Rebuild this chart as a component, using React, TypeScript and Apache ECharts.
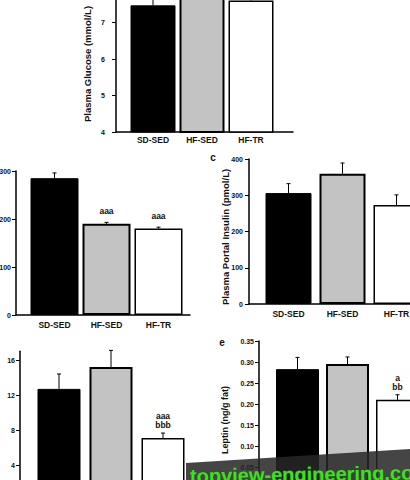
import React, { useEffect, useRef } from "react";
import * as echarts from "echarts";

// ---- data ----
const groups = ["SD-SED", "HF-SED", "HF-TR"];

const glucose = [7.47, 7.85, 7.6];
const glucoseErr = [0.3, 0.3, 0.3];
const glucoseTicks = [4, 5, 6, 7];

const panelB = [285, 190, 180];
const panelBErr = [11, 3, 3];
const panelBSig = ["", "aaa", "aaa"];
const panelBTicks = [0, 100, 200, 300];

const insulin = [306, 359, 273];
const insulinErr = [26, 30, 28];
const insulinTicks = [0, 100, 200, 300, 400];

const panelD = [12.7, 15.2, 7.1];
const panelDErr = [1.7, 1.9, 0.55];
const panelDSig = ["", "", "aaa\nbbb"];
const panelDTicks = [4, 8, 12, 16];

const leptin = [0.283, 0.295, 0.21];
const leptinErr = [0.028, 0.017, 0.012];
const leptinSig = ["", "", "a\nbb"];
const leptinTicks = [0.05, 0.1, 0.15, 0.2, 0.25, 0.3, 0.35];

// ---- layout ----
type Panel = {
  values: number[];
  errs: number[];
  sig?: string[];
  ticks: number[];
  min: number;
  max: number;
  decimals: number;
  axisX: number;
  top: number;
  height: number;
  firstCenter: number;
  step: number;
  rightX: number;
  barWidth: number;
  labelMargin: number;
  yLabelMargin: number;
  showX: boolean;
};

const panels: Panel[] = [
  { values: glucose, errs: glucoseErr, ticks: glucoseTicks, min: 4, max: 8, decimals: 0,
    axisX: 116, top: -14, height: 146, firstCenter: 153, step: 49, rightX: 293, barWidth: 45,
    labelMargin: 3, yLabelMargin: 11, showX: true },
  { values: panelB, errs: panelBErr, sig: panelBSig, ticks: panelBTicks, min: 0, max: 300, decimals: 0,
    axisX: 16, top: 171, height: 144, firstCenter: 54.5, step: 52, rightX: 190, barWidth: 48,
    labelMargin: 5, yLabelMargin: 5, showX: true },
  { values: insulin, errs: insulinErr, ticks: insulinTicks, min: 0, max: 400, decimals: 0,
    axisX: 249, top: 159, height: 145, firstCenter: 288.5, step: 54, rightX: 419, barWidth: 46,
    labelMargin: 5, yLabelMargin: 6, showX: true },
  { values: panelD, errs: panelDErr, sig: panelDSig, ticks: panelDTicks, min: 0, max: 17, decimals: 0,
    axisX: 20, top: 351.25, height: 148.75, firstCenter: 59, step: 52, rightX: 195, barWidth: 43,
    labelMargin: 5, yLabelMargin: 5, showX: false },
  { values: leptin, errs: leptinErr, sig: leptinSig, ticks: leptinTicks, min: 0, max: 0.35, decimals: 2,
    axisX: 259, top: 341, height: 147, firstCenter: 297.5, step: 50, rightX: 419, barWidth: 43,
    labelMargin: 5, yLabelMargin: 5, showX: false },
];

const FONT = '"Liberation Sans", Arial, sans-serif';

const barStyles = [
  { color: "#000000", borderColor: "#000000", borderWidth: 1 },
  { color: "#c3c3c3", borderColor: "#000000", borderWidth: 2 },
  { color: "#ffffff", borderColor: "#000000", borderWidth: 1.5 },
];

function buildOption() {
  const grid: any[] = [];
  const xAxis: any[] = [];
  const yAxis: any[] = [];
  const series: any[] = [];

  panels.forEach((p, i) => {
    grid.push({
      left: p.axisX,
      top: p.top,
      width: p.rightX - p.axisX,
      height: p.height,
      containLabel: false,
      outerBoundsMode: "none",
    });
    xAxis.push({
      type: "value",
      gridIndex: i,
      min: -(p.firstCenter - p.axisX) / p.step,
      max: (p.rightX - p.firstCenter) / p.step,
      axisLine: { show: true, onZero: false, lineStyle: { color: "#000", width: 1.5 } },
      axisTick: { show: false },
      splitLine: { show: false },
      axisLabel: {
        show: p.showX,
        customValues: [0, 1, 2],
        formatter: (v: number) => groups[Math.round(v)] ?? "",
        color: "#111",
        fontFamily: FONT,
        fontWeight: "bold",
        fontSize: 8.5,
        margin: p.labelMargin,
      },
    });
    yAxis.push({
      type: "value",
      gridIndex: i,
      min: p.min,
      max: p.max,
      axisLine: { show: true, onZero: false, lineStyle: { color: "#000", width: 1.5 } },
      axisTick: { show: true, customValues: p.ticks, length: 4, lineStyle: { color: "#000", width: 1 } },
      splitLine: { show: false },
      axisLabel: {
        customValues: p.ticks,
        formatter: (v: number) => v.toFixed(p.decimals),
        color: "#111",
        fontFamily: FONT,
        fontWeight: "bold",
        fontSize: 7,
        margin: p.yLabelMargin,
      },
    });
    series.push({
      type: "bar",
      xAxisIndex: i,
      yAxisIndex: i,
      barWidth: p.barWidth,
      clip: true,
      data: p.values.map((v, k) => ({ value: [k, v], itemStyle: barStyles[k] })),
      label: p.sig
        ? {
            show: true,
            position: "top",
            distance: 8,
            formatter: (prm: any) => p.sig![prm.dataIndex],
            color: "#111",
            fontFamily: FONT,
            fontWeight: "bold",
            fontSize: 8.5,
            lineHeight: 9.5,
          }
        : { show: false },
    });
    series.push({
      type: "custom",
      xAxisIndex: i,
      yAxisIndex: i,
      clip: false,
      z: 3,
      data: p.values.map((v, k) => [k, v, p.errs[k]]),
      renderItem: (_params: any, api: any) => {
        const x = api.value(0);
        const v = api.value(1);
        const e = api.value(2);
        const p1 = api.coord([x, v]);
        const p2 = api.coord([x, v + e]);
        return {
          type: "group",
          children: [
            { type: "line", shape: { x1: p1[0], y1: p1[1], x2: p2[0], y2: p2[1] }, style: { stroke: "#000", lineWidth: 1 } },
            { type: "line", shape: { x1: p2[0] - 2, y1: p2[1], x2: p2[0] + 2, y2: p2[1] }, style: { stroke: "#000", lineWidth: 1 } },
          ],
        };
      },
    });
  });

  const txt = (text: string, x: number, y: number, size: number, rot = 0) => ({
    type: "text",
    x,
    y,
    rotation: rot,
    style: {
      text,
      font: `bold ${size}px ${FONT}`,
      fill: "#111",
      textAlign: "center",
      textVerticalAlign: "middle",
      align: "center",
      verticalAlign: "middle",
    },
  });

  const graphic: any[] = [
    txt("Plasma Glucose (mmol/L)", 87, 64, 9.5, Math.PI / 2),
    txt("Plasma Portal Insulin (pmol/L)", 225, 237, 9.5, Math.PI / 2),
    txt("Leptin (ng/g fat)", 225, 420, 9, Math.PI / 2),
    txt("c", 213, 157, 10),
    txt("e", 222, 342, 10),
    {
      type: "polygon",
      z: 100,
      shape: { points: [[186, 463], [410, 449], [410, 480], [186, 480]] },
      style: { fill: "rgba(38,38,38,0.86)" },
    },
    {
      type: "text",
      z: 101,
      x: 190,
      y: 476,
      rotation: 0.015,
      style: {
        text: "topview-engineering.com",
        font: `bold 20px ${FONT}`,
        fill: "#3fe020",
        stroke: "#1f5a12",
        lineWidth: 0.8,
        textAlign: "left",
        textVerticalAlign: "middle",
        align: "left",
        verticalAlign: "middle",
      },
    },
  ];

  return {
    animation: false,
    backgroundColor: "#ffffff",
    textStyle: { fontFamily: FONT },
    grid,
    xAxis,
    yAxis,
    series,
    graphic,
  };
}

export default function App() {
  const ref = useRef<HTMLDivElement>(null);
  useEffect(() => {
    if (!ref.current) return;
    const chart = echarts.init(ref.current, undefined, { renderer: "svg" });
    chart.setOption(buildOption() as any);
    return () => chart.dispose();
  }, []);
  return (
    <div
      ref={ref}
      style={{ position: "absolute", left: 0, top: 0, width: 410, height: 480 }}
    />
  );
}
